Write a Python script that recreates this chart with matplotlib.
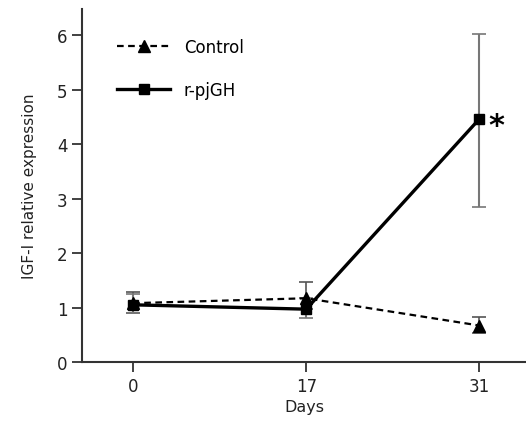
import matplotlib.pyplot as plt
import numpy as np

days = ['0', '17', '31']
control = [1.08, 1.17, 0.67]
control_err_up = [0.20, 0.29, 0.15]
control_err_dn = [0.18, 0.20, 0.13]
pjgh = [1.05, 0.97, 4.46]
pjgh_err_up = [0.20, 0.20, 1.56]
pjgh_err_dn = [0.15, 0.17, 1.62]

plt.rcParams['font.family'] = 'DejaVu Sans'
fig = plt.figure(figsize=(5.26, 4.35), dpi=100)
ax = fig.add_axes([0.156, 0.1655, 0.844, 0.8115])

x = np.arange(len(days))
ax.errorbar(x, control, yerr=[control_err_dn, control_err_up], fmt='none',
            ecolor='#555555', elinewidth=1.2, capsize=5, capthick=1.2)
ax.errorbar(x, pjgh, yerr=[pjgh_err_dn, pjgh_err_up], fmt='none',
            ecolor='#777777', elinewidth=1.5, capsize=5, capthick=1.2)
ax.plot(x, control, linestyle=(0, (3, 2)), color='black', lw=1.6,
        marker='^', markersize=9, label='Control')
ax.plot(x, pjgh, linestyle='-', color='black', lw=2.4,
        marker='s', markersize=7, label='r-pjGH')

ax.text(x[2] + 0.05, pjgh[2] - 0.12, '*', fontsize=22, fontweight='bold',
        ha='left', va='center')

ax.set_xlim(-0.295, 2.27)
ax.set_ylim(0, 6.48)
ax.set_xticks(x)
ax.set_xticklabels(days)
ax.set_yticks(range(7))
ax.spines['top'].set_visible(False)
ax.spines['right'].set_visible(False)
for s in ['left', 'bottom']:
    ax.spines[s].set_linewidth(1.5)
    ax.spines[s].set_color('#333333')
ax.tick_params(direction='out', length=7, width=1.3, labelsize=12,
               colors='#333333', labelcolor='#222222')
ax.set_xlabel('Days', fontsize=11.5, color='#222222', labelpad=3)
ax.set_ylabel('IGF-I relative expression', fontsize=11, color='#222222', labelpad=14)

ax.legend(loc='upper left', bbox_to_anchor=(0.045, 0.96), frameon=False,
          fontsize=12, handlelength=3.2, labelspacing=1.5, markerfirst=True)

fig.savefig('out.png', dpi=100)
